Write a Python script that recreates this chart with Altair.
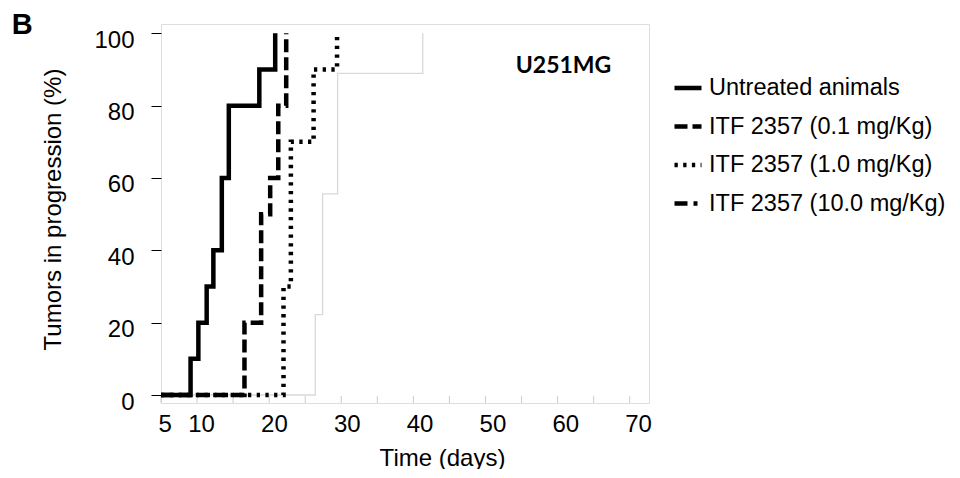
import altair as alt
import pandas as pd

# ---- data ----
series_names = ["Untreated animals", "\u2009ITF 2357 (0.1 mg/Kg)",
                "ITF 2357 (1.0 mg/Kg)", "ITF 2357 (10.0 mg/Kg)"]

untreated_days = [4.5, 8.56, 9.63, 10.77, 11.69, 12.85, 13.81, 18.0, 20.18]
untreated_pct = [0, 10, 20, 30, 40, 60, 80, 90, 100]

low_days = [4.5, 15.96, 18.25, 19.49, 20.6, 21.69]
low_pct = [0, 20, 50, 60, 80, 100]

mid_days = [4.5, 21.32, 22.33, 25.45, 28.67]
mid_pct = [0, 30, 70, 90, 100]

high_days = [4.5, 25.68, 26.69, 28.75, 40.44]
high_pct = [0, 22.2, 55.6, 88.9, 100]

x_tick_positions = [4.5, 9.45, 14.4, 19.35, 24.3, 29.25, 34.2, 39.15,
                    44.1, 49.05, 54.0, 58.95, 63.9, 68.85]
x_label_values = [5, 10, 20, 30, 40, 50, 60, 70]
y_values = [0, 10, 20, 30, 40, 50, 60, 70, 80, 90, 100]

cell_label = ["U251MG"]
cell_label_x = [53.2]
cell_label_y = [89.0]

panel_letter = ["B"]
panel_letter_x = [-16.0]
panel_letter_y = [99.7]

# ---- tables ----
rows = []
for name, days, pcts in [(series_names[2], mid_days, mid_pct),
                         (series_names[1], low_days, low_pct),
                         (series_names[0], untreated_days, untreated_pct)]:
    for i, (d, p) in enumerate(zip(days, pcts)):
        rows.append({"series": name, "day": d, "pct": p, "i": i})
black_df = pd.DataFrame(rows)
grey_df = pd.DataFrame({"series": series_names[3], "day": high_days,
                        "pct": high_pct, "i": list(range(len(high_days)))})
ticks_df = pd.DataFrame({"t": x_tick_positions})
label_df = pd.DataFrame({"label": cell_label, "x": cell_label_x, "y": cell_label_y})
letter_df = pd.DataFrame({"label": panel_letter, "x": panel_letter_x, "y": panel_letter_y})

FONT = "Liberation Sans"
W, H = 488, 379

xscale = alt.Scale(domain=[4.5, 71.5], nice=False, zero=False)
yscale = alt.Scale(domain=[-2.21, 102.57], nice=False, zero=False)

x_axis = alt.Axis(values=x_label_values, ticks=False, domain=False, grid=False,
                  labelFontSize=24, labelFont=FONT, labelColor="black",
                  labelPadding=9, title="Time (days)", titleFont=FONT,
                  titleFontSize=24, titleFontWeight="normal", titleColor="black",
                  titleX=281, titleY=55, titleBaseline="middle", titleAlign="center")

y_axis = alt.Axis(values=y_values, domain=False, grid=False,
                  labelExpr="datum.value % 20 === 0 ? datum.label : ''",
                  tickSize=10, tickWidth=1,
                  tickColor={"condition": {"test": "datum.value % 20 === 0", "value": "#000000"},
                             "value": "#cccccc"},
                  labelFontSize=24, labelFont=FONT, labelColor="black",
                  labelPadding=17, labelOffset=7,
                  title="Tumors in progression (%)", titleFont=FONT, titleFontSize=24,
                  titleFontWeight="normal", titleColor="black",
                  titleX=-108, titleY=185, titleBaseline="middle", titleAlign="center",
                  titleAngle=270)

dash_scale = alt.Scale(domain=series_names,
                       range=[[1, 0], [13, 5], [3.3, 5.4], [13, 6, 4, 6]])

grey = alt.Chart(grey_df).mark_line(interpolate="step-after", color="#d9d9d9",
                                    strokeWidth=1.3).encode(
    x=alt.X("day:Q", scale=xscale, axis=x_axis),
    y=alt.Y("pct:Q", scale=yscale, axis=y_axis),
    order="i:Q",
)

black = alt.Chart(black_df).mark_line(interpolate="step-after", color="black",
                                      strokeWidth=4.5, strokeCap="butt").encode(
    x=alt.X("day:Q", scale=xscale),
    y=alt.Y("pct:Q", scale=yscale),
    strokeDash=alt.StrokeDash("series:N", scale=dash_scale, sort=None,
                              legend=alt.Legend(title=None, orient="none",
                                                legendX=511, legendY=48,
                                                symbolType="stroke", symbolSize=729,
                                                symbolStrokeColor="black",
                                                symbolStrokeWidth=4.5,
                                                labelFontSize=23.5, labelFont=FONT,
                                                labelColor="black", labelOffset=5,
                                                rowPadding=10.5, padding=0,
                                                labelLimit=400)),
    order="i:Q",
)

xticks = alt.Chart(ticks_df).mark_rule(color="#cccccc", strokeWidth=1).encode(
    x=alt.X("t:Q", scale=xscale),
    y=alt.value(H - 7),
    y2=alt.value(H),
)

label = alt.Chart(label_df).mark_text(font="Lato", fontWeight="bold", fontSize=23,
                                      align="left", baseline="alphabetic",
                                      color="black").encode(
    x=alt.X("x:Q", scale=xscale),
    y=alt.Y("y:Q", scale=yscale),
    text="label:N",
)

letter = alt.Chart(letter_df).mark_text(font=FONT, fontWeight="bold", fontSize=29,
                                        align="left", baseline="alphabetic",
                                        color="black").encode(
    x=alt.X("x:Q", scale=xscale),
    y=alt.Y("y:Q", scale=yscale),
    text="label:N",
)

chart = alt.layer(grey, xticks, black, label, letter).properties(
    width=W, height=H,
    autosize=alt.AutoSizeParams(type="none"),
    padding={"left": 153, "top": 16, "right": 303, "bottom": 66},
).configure_view(stroke="#d9d9d9", strokeWidth=1).configure(background="white")

chart.save("out.html", embed_options={"renderer": "svg", "actions": False})
